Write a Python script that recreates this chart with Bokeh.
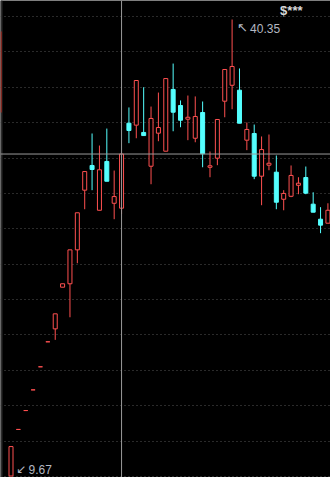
import numpy as np
from bokeh.plotting import figure
from bokeh.models import Range1d, FixedTicker, Span, Label, BoxAnnotation, ColumnDataSource
from bokeh.embed import file_html
from bokeh.resources import INLINE

# Daily OHLC prices
opens = [9.67, 12.80, 14.07, 15.46, 17.01, 18.69, 19.56, 22.36, 22.59, 24.87,
         28.88, 30.54, 27.53, 30.81, 28.00, 27.67, 33.38, 33.25, 32.76, 30.49,
         32.71, 31.50, 35.65, 34.57, 33.65, 32.37, 34.10, 30.42, 31.03, 34.86,
         35.93, 35.60, 32.24, 32.69, 29.82, 30.56, 30.09, 28.27, 28.47, 29.21,
         29.73, 27.94, 26.93, 26.66]
highs = [11.65, 12.80, 14.07, 15.46, 17.01, 18.69, 20.57, 22.59, 24.87, 27.36,
         30.13, 32.69, 31.88, 33.02, 30.20, 31.31, 34.44, 36.25, 35.80, 34.50,
         35.44, 36.38, 37.39, 34.91, 35.24, 35.18, 34.84, 31.48, 33.63, 36.99,
         40.35, 37.06, 33.43, 33.29, 32.49, 32.62, 31.21, 28.88, 30.54, 29.75,
         30.47, 28.74, 27.74, 28.00]
lows = [9.67, 12.80, 14.07, 15.46, 17.01, 18.69, 18.82, 22.36, 20.34, 23.97,
        27.60, 28.88, 27.53, 29.48, 26.93, 27.27, 32.04, 32.37, 32.55, 29.28,
        32.17, 31.50, 32.84, 33.11, 32.24, 32.10, 30.42, 29.75, 30.56, 33.78,
        34.32, 33.38, 31.57, 29.62, 27.87, 30.22, 27.60, 27.53, 28.41, 28.61,
        28.61, 27.40, 25.99, 26.66]
closes = [11.65, 12.80, 14.07, 15.46, 17.01, 18.69, 20.57, 22.59, 24.87, 27.36,
          30.13, 30.27, 30.25, 29.48, 28.45, 31.31, 32.89, 36.25, 32.55, 33.70,
          33.09, 36.38, 34.12, 33.58, 33.78, 33.83, 31.33, 30.52, 33.63, 36.99,
          37.19, 33.38, 32.96, 29.82, 31.61, 30.69, 28.07, 28.66, 29.87, 29.35,
          28.68, 27.40, 26.53, 27.53]

# Horizontal price levels of the dotted grid
grid_levels = [40.55, 38.17, 35.80, 33.42, 31.04, 28.66, 26.28, 23.90,
               21.53, 19.15, 16.77, 14.39, 12.01, 9.63]

# Crosshair sits on this bar's close
cross_index = 15

UP = "#ff5050"
DOWN = "#54ffff"
LABEL_GREY = "#b4b8c2"

n = len(opens)
xs = list(range(n))
rising = [c >= o for o, c in zip(opens, closes)]
src = ColumnDataSource(dict(
    x=xs, open=opens, high=highs, low=lows, close=closes,
    top=[max(o, c) for o, c in zip(opens, closes)],
    bottom=[min(o, c) for o, c in zip(opens, closes)],
    color=[UP if r else DOWN for r in rising],
    fill=["#000000" if r else DOWN for r in rising],
))

p = figure(width=330, height=477,
           x_range=Range1d(-1.425, 43.35), y_range=Range1d(9.571, 41.627),
           x_axis_location=None, y_axis_location=None,
           output_backend="svg", toolbar_location=None, min_border=0,
           background_fill_color="#000000", border_fill_color="#000000",
           outline_line_color=None)

p.xgrid.visible = False
p.ygrid.ticker = FixedTicker(ticks=grid_levels)
p.ygrid.grid_line_color = "#555555"
p.ygrid.grid_line_dash = "1 3"
p.ygrid.grid_line_width = 1

# left edge strip of the neighbouring scale
p.add_layout(BoxAnnotation(left=0, right=2, left_units="screen", right_units="screen",
                           fill_color="#2c2c2c", fill_alpha=1, line_color=None))
p.add_layout(BoxAnnotation(left=0, right=1, left_units="screen", right_units="screen",
                           top=39.54, bottom=34.10,
                           fill_color="#d02010", fill_alpha=1, line_color=None))

# wicks, then bodies on top
p.segment(x0="x", y0="high", x1="x", y1="low", line_color="color", line_width=1, source=src)
p.vbar(x="x", width=0.543, top="top", bottom="bottom",
       fill_color="fill", line_color="color", line_width=1, source=src)

# crosshair
p.add_layout(Span(location=xs[cross_index], dimension="height",
                  line_color="#9a9a9a", line_width=1))
p.add_layout(Span(location=closes[cross_index], dimension="width",
                  line_color="#9a9a9a", line_width=1))

# extreme price markers: arrow plus value
imax = int(np.argmax(highs))
imin = int(np.argmin(lows))
p.add_layout(Label(x=xs[imax], y=highs[imax], text="\u2196",
                   x_offset=5, y_offset=-8, text_baseline="middle",
                   text_color=LABEL_GREY, text_font_size="13px",
                   text_font="DejaVu Sans"))
p.add_layout(Label(x=xs[imax], y=highs[imax], text=f"{highs[imax]:.2f}",
                   x_offset=18, y_offset=-8.5, text_baseline="middle",
                   text_color=LABEL_GREY, text_font_size="12px",
                   text_font="Liberation Sans"))
p.add_layout(Label(x=xs[imin], y=lows[imin], text="\u2199",
                   x_offset=5, y_offset=7, text_baseline="middle",
                   text_color=LABEL_GREY, text_font_size="12px",
                   text_font="DejaVu Sans"))
p.add_layout(Label(x=xs[imin], y=lows[imin], text=f"{lows[imin]:.2f}",
                   x_offset=17.5, y_offset=6.5, text_baseline="middle",
                   text_color=LABEL_GREY, text_font_size="12px",
                   text_font="Liberation Sans"))

# masked symbol in the corner
p.add_layout(Label(x=302, y=467, x_units="screen", y_units="screen",
                   text="$***", text_align="right", text_baseline="middle",
                   text_color="#d8d8d8", text_font_size="13px",
                   text_font_style="bold", text_font="Liberation Sans"))

open("out.html", "w").write(file_html(p, INLINE))
